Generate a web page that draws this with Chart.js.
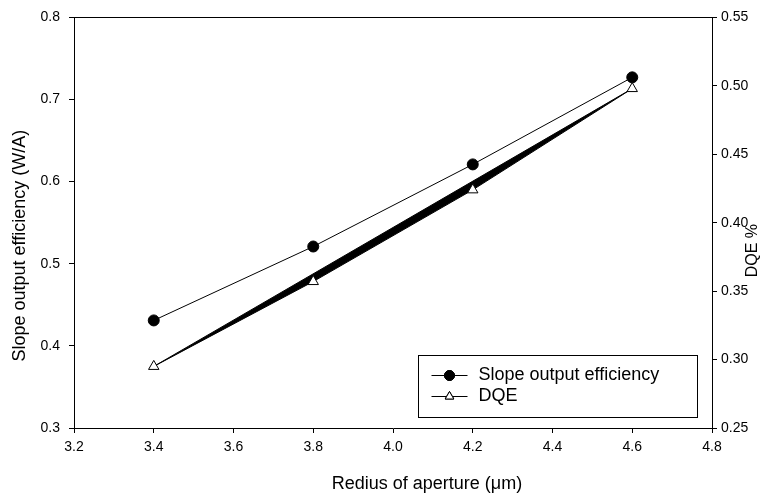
<!DOCTYPE html>
<html>
<head>
<meta charset="utf-8">
<script src="https://cdn.jsdelivr.net/npm/chart.js@4.4.0/dist/chart.umd.min.js"></script>
<style>
  html, body { margin: 0; padding: 0; background: #fff; }
  #wrap { width: 763px; height: 502px; }
</style>
</head>
<body>
<div id="wrap"><canvas id="chart" width="763" height="502"></canvas></div>
<script>
// data
const radius = [3.4, 3.8, 4.2, 4.6];
const slopeEff = [0.431, 0.521, 0.621, 0.727];
const dqe = [0.295, 0.357, 0.424, 0.498];
// straight line through first and last DQE point (gives the black wedge)
const fitX = [3.4, 4.6];
const fitY = [0.295, 0.498];

const xTitle = 'Redius of aperture (\u03bcm)';
const yTitle = 'Slope output efficiency (W/A)';
const y1Title = 'DQE %';
const legendLabels = ['Slope output efficiency', 'DQE'];

const FONT = "'Liberation Sans', Arial, sans-serif";

const toXY = (xs, ys) => xs.map((x, i) => ({ x: x, y: ys[i] }));

// top border, axis titles and the boxed legend
const boxPlugin = {
    id: 'boxPlugin',
    afterDraw(chart) {
        const ctx = chart.ctx;
        const a = chart.chartArea;
        ctx.save();
        ctx.strokeStyle = '#000';
        ctx.lineWidth = 1;
        ctx.beginPath();
        ctx.moveTo(a.left, Math.round(a.top) + 0.5);
        ctx.lineTo(a.right, Math.round(a.top) + 0.5);
        ctx.stroke();

        // titles
        ctx.fillStyle = '#000';
        ctx.font = '18px ' + FONT;
        ctx.textAlign = 'center';
        ctx.textBaseline = 'middle';
        ctx.fillText(xTitle, (a.left + a.right) / 2 + 34, 484);
        ctx.save();
        ctx.translate(20, (a.top + a.bottom) / 2 + 23);
        ctx.rotate(-Math.PI / 2);
        ctx.fillText(yTitle, 0, 0);
        ctx.restore();
        ctx.save();
        ctx.font = '16px ' + FONT;
        ctx.translate(753, (a.top + a.bottom) / 2 + 28);
        ctx.rotate(-Math.PI / 2);
        ctx.fillText(y1Title, 0, 0);
        ctx.restore();

        // legend box
        const w = 279, h = 62;
        const x0 = Math.round(a.right - 15 - w) + 0.5;
        const y0 = Math.round(a.bottom - 11 - h) + 0.5;
        ctx.fillStyle = '#fff';
        ctx.fillRect(x0, y0, w, h);
        ctx.strokeRect(x0, y0, w, h);

        const styles = [
            { style: 'circle', fill: '#000', r: 5 },
            { style: 'triangle', fill: '#fff', r: 5 }
        ];
        legendLabels.forEach((label, i) => {
            const st = styles[i];
            const cy = y0 + 20 + i * 21;
            ctx.beginPath();
            ctx.moveTo(x0 + 13, cy);
            ctx.lineTo(x0 + 49, cy);
            ctx.strokeStyle = '#000';
            ctx.stroke();
            Chart.helpers.drawPoint(ctx, {
                pointStyle: st.style, radius: st.r, borderWidth: 1
            }, x0 + 31, cy);
            ctx.fillStyle = st.fill;
            ctx.fill();
            ctx.stroke();
            ctx.fillStyle = '#000';
            ctx.font = '18px ' + FONT;
            ctx.textBaseline = 'middle';
            ctx.textAlign = 'left';
            ctx.fillText(label, x0 + 60, cy);
        });
        ctx.restore();
    }
};

const axisCommon = {
    border: { color: '#000', width: 1 },
    grid: { drawOnChartArea: false, color: '#000', tickLength: 5, tickWidth: 1 },
};
const tickFont = { family: FONT, size: 14 };

new Chart(document.getElementById('chart'), {
    type: 'line',
    data: {
        datasets: [
            {
                label: legendLabels[0],
                data: toXY(radius, slopeEff),
                yAxisID: 'y',
                borderColor: '#000',
                borderWidth: 1,
                pointStyle: 'circle',
                pointRadius: 5.5,
                pointBackgroundColor: '#000',
                pointBorderColor: '#000',
                fill: false
            },
            {
                label: legendLabels[1],
                data: toXY(radius, dqe),
                yAxisID: 'y1',
                borderColor: '#000',
                borderWidth: 1,
                pointStyle: 'triangle',
                pointRadius: 6,
                pointBackgroundColor: '#fff',
                pointBorderColor: '#000',
                pointBorderWidth: 1,
                fill: false
            },
            {
                label: 'fit',
                data: toXY(fitX, fitY),
                yAxisID: 'y1',
                borderColor: '#000',
                borderWidth: 1,
                pointRadius: 0,
                backgroundColor: '#000',
                fill: 1
            }
        ]
    },
    options: {
        responsive: false,
        animation: false,
        layout: { padding: { top: 16, left: 0, right: 0, bottom: 0 } },
        plugins: { legend: { display: false }, tooltip: { enabled: false } },
        scales: {
            x: {
                ...axisCommon,
                type: 'linear',
                min: 3.2, max: 4.8,
                afterFit: s => { s.height = 74; },
                ticks: { stepSize: 0.2, color: '#000', padding: 6, font: tickFont,
                    callback: v => v.toFixed(1), maxRotation: 0 }
            },
            y: {
                ...axisCommon,
                position: 'left',
                min: 0.3, max: 0.8,
                afterFit: s => { s.width = 74; },
                ticks: { stepSize: 0.1, color: '#000', padding: 9, font: tickFont,
                    callback: v => v.toFixed(1) }
            },
            y1: {
                ...axisCommon,
                position: 'right',
                min: 0.25, max: 0.55,
                afterFit: s => { s.width = 51; },
                ticks: { stepSize: 0.05, color: '#000', padding: 4, font: tickFont,
                    callback: v => v.toFixed(2) }
            }
        }
    },
    plugins: [boxPlugin]
});
</script>
</body>
</html>
